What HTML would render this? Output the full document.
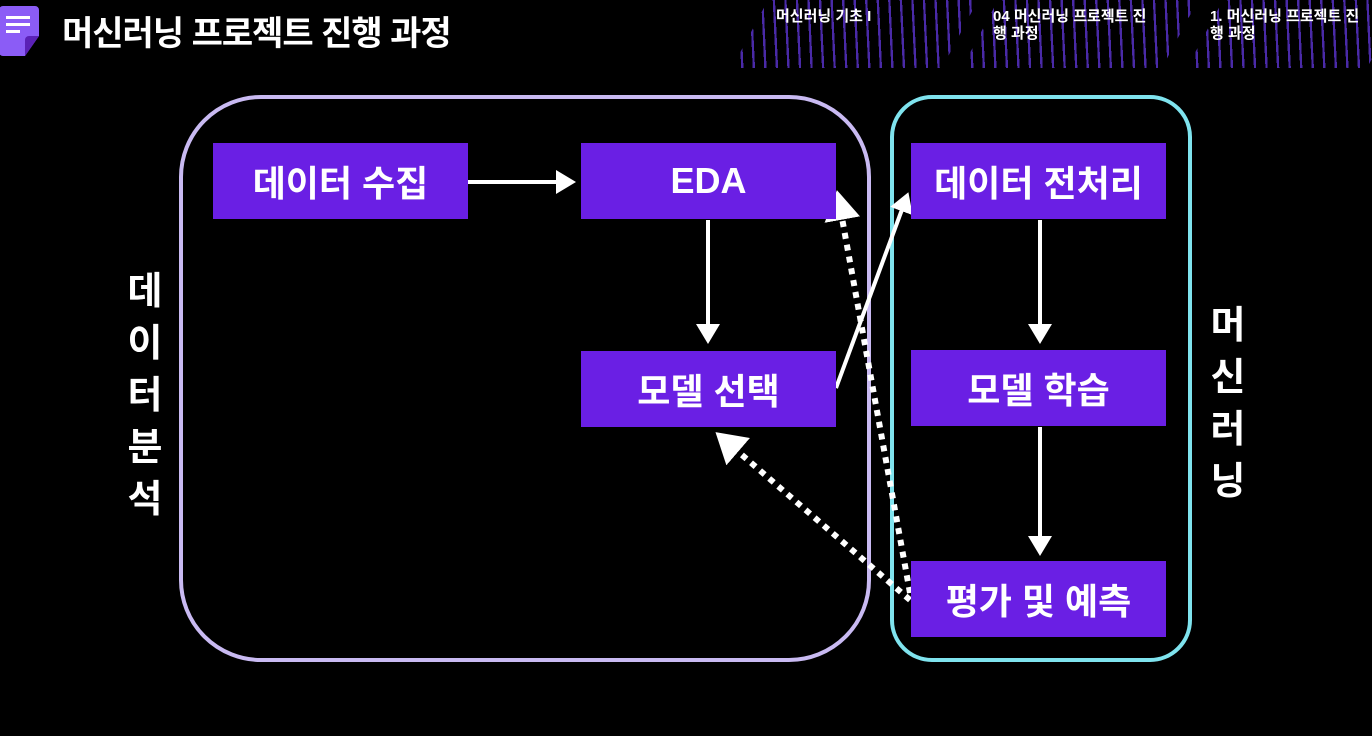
<!DOCTYPE html>
<html><head><meta charset="utf-8"><style>
body{margin:0;width:1372px;height:736px;background:#000;overflow:hidden;position:relative;font-family:"Liberation Sans","Noto Sans CJK KR",sans-serif;color:#fff}
.box{position:absolute;background:#6a1fe4;color:#fff;font-weight:bold;font-size:36px;display:flex;align-items:center;justify-content:center;width:255px;height:76px}
.vt{position:absolute;font-weight:bold;font-size:38px;line-height:52px;width:50px;text-align:center}
.stripe{position:absolute;top:0;height:68px;background:repeating-linear-gradient(60deg,transparent 0 8px,#4a2aa8 8px 10px);transform:skewX(-28deg)}
.crumb{position:absolute;font-weight:bold;font-size:15px;line-height:17px;color:#fff}
</style></head><body>
<div class="stripe" style="left:750px;width:210px"></div>
<div class="stripe" style="left:980px;width:200px"></div>
<div class="stripe" style="left:1205px;width:180px"></div>
<div class="crumb" style="left:776px;top:8px">머신러닝 기초 I</div>
<div class="crumb" style="left:993px;top:8px">04 머신러닝 프로젝트 진<br>행 과정</div>
<div class="crumb" style="left:1210px;top:8px">1. 머신러닝 프로젝트 진<br>행 과정</div>
<svg style="position:absolute;left:0;top:6px" width="40" height="50"><path d="M3 0h32a4 4 0 0 1 4 4v26l-14 20H3a4 4 0 0 1-4-4V4a4 4 0 0 1 4-4z" fill="#8b5cf6"/><path d="M39 30L25 50V34a4 4 0 0 1 4-4z" fill="#5b21b6"/><rect x="6" y="10" width="24" height="3" fill="#fff"/><rect x="6" y="17" width="24" height="3" fill="#fff"/><rect x="6" y="24" width="14" height="3" fill="#fff"/></svg>
<div style="position:absolute;left:62px;top:6px;font-size:34px;font-weight:bold;letter-spacing:-1px">머신러닝 프로젝트 진행 과정</div>

<svg style="position:absolute;left:0;top:0" width="1372" height="736">
<defs><marker id="a" markerWidth="6" markerHeight="6" refX="4" refY="3" orient="auto" markerUnits="strokeWidth"><path d="M0,0L5,3L0,6z" fill="#fff"/></marker></defs>
<rect x="181" y="97" width="688" height="563" rx="80" fill="none" stroke="#c9baf2" stroke-width="4"/>
<rect x="892" y="97" width="298" height="563" rx="40" fill="none" stroke="#7fe3ee" stroke-width="4"/>
<line x1="468" y1="182" x2="572" y2="182" stroke="#fff" stroke-width="4" marker-end="url(#a)"/>
<line x1="708" y1="220" x2="708" y2="340" stroke="#fff" stroke-width="4" marker-end="url(#a)"/>
<line x1="1040" y1="220" x2="1040" y2="340" stroke="#fff" stroke-width="4" marker-end="url(#a)"/>
<line x1="1040" y1="427" x2="1040" y2="552" stroke="#fff" stroke-width="4" marker-end="url(#a)"/>
<line x1="836" y1="388" x2="907" y2="196" stroke="#fff" stroke-width="4" marker-end="url(#a)"/>
<line x1="910" y1="593" x2="838" y2="196" stroke="#fff" stroke-width="6" stroke-dasharray="6 6" marker-end="url(#a)"/>
<line x1="910" y1="600" x2="720" y2="436" stroke="#fff" stroke-width="6" stroke-dasharray="6 6" marker-end="url(#a)"/>
</svg>
<div class="box" style="left:213px;top:143px">데이터 수집</div>
<div class="box" style="left:581px;top:143px">EDA</div>
<div class="box" style="left:581px;top:351px">모델 선택</div>
<div class="box" style="left:911px;top:143px">데이터 전처리</div>
<div class="box" style="left:911px;top:350px">모델 학습</div>
<div class="box" style="left:911px;top:561px">평가 및 예측</div>
<div class="vt" style="left:120px;top:266px">데<br>이<br>터<br>분<br>석</div>
<div class="vt" style="left:1203px;top:300px">머<br>신<br>러<br>닝</div>
</body></html>
